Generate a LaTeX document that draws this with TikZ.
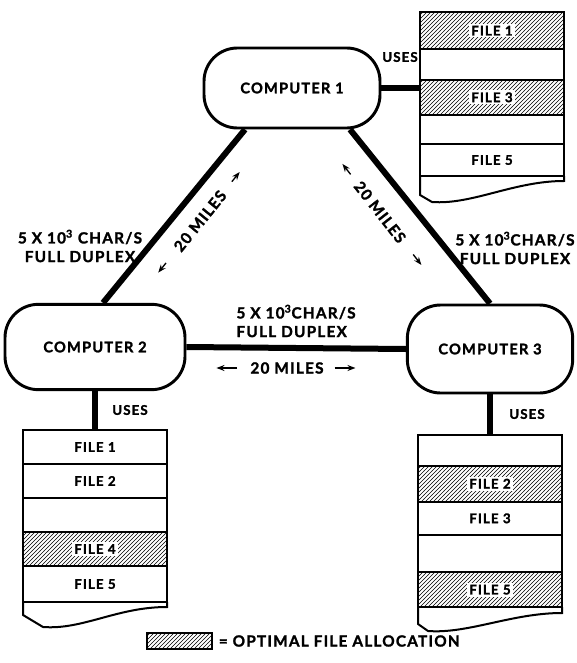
\documentclass[tikz,border=0pt]{standalone}
\usepackage{fontspec}
\setmainfont{Lato}[LetterSpace=8,BoldFeatures={FakeBold=1.6}]
\usetikzlibrary{positioning,calc,patterns,arrows.meta}

\tikzset{every picture/.style={line width=0.75pt}}

\begin{document}
\begin{tikzpicture}[x=0.75pt,y=0.75pt,yscale=-1,xscale=1,
	font=\bfseries\fontsize{10}{14}\selectfont,
	computer/.style={draw,line width=2.2pt,rounded corners=25pt,inner sep=0pt,font=\bfseries\fontsize{11}{14}\selectfont},
	link/.style={line width=4.5pt},
	filerow/.style={draw,line width=1.5pt,minimum width=108pt,inner sep=0pt,outer sep=0pt},
	optimal/.style={pattern=north east lines},
	tag/.style={fill=white,inner sep=1.5pt},
	dist/.style={line width=1pt,-{Stealth[length=6pt,width=4.5pt]}},
	miles/.style={font=\bfseries\fontsize{11.5}{14}\selectfont},
	rate/.style={align=center,inner sep=0pt,font=\bfseries\fontsize{11.5}{14}\selectfont}]
	\useasboundingbox (0,0) rectangle (576,663);

	% Computers
	\node[computer,minimum width=132pt,minimum height=60pt] (c1) at (292,88) {COMPUTER 1};
	\node[computer,minimum width=135pt,minimum height=64pt] (c2) at (95,347) {COMPUTER 2};
	\node[computer,minimum width=124pt,minimum height=66pt] (c3) at (490,349) {COMPUTER 3};

	% Files used by computer 1
	\node[filerow,optimal,minimum height=28pt,anchor=north west,label={[tag]center:FILE 1}] (s1r1) at (420,12) {};
	\node[filerow,minimum height=23pt,below=0pt of s1r1] (s1r2) {};
	\node[filerow,optimal,minimum height=26pt,below=0pt of s1r2,label={[tag]center:FILE 3}] (s1r3) {};
	\node[filerow,minimum height=22pt,below=0pt of s1r3] (s1r4) {};
	\node[filerow,minimum height=24pt,below=0pt of s1r4] (s1r5) {FILE 5};
	\draw[line width=1.5pt] (s1r5.south west) -- ++(0,19) -- ++(12,7) .. controls +(40,3) and +(-50,0) .. ($(s1r5.south east)+(0,5)$) -- (s1r5.south east);

	% Files used by computer 2
	\node[filerow,minimum height=25.5pt,anchor=north west] (s2r1) at (23,430) {FILE 1};
	\node[filerow,minimum height=25.5pt,below=0pt of s2r1] (s2r2) {FILE 2};
	\node[filerow,minimum height=25.5pt,below=0pt of s2r2] (s2r3) {};
	\node[filerow,optimal,minimum height=25.5pt,below=0pt of s2r3,label={[tag]center:FILE 4}] (s2r4) {};
	\node[filerow,minimum height=27pt,below=0pt of s2r4] (s2r5) {FILE 5};
	\draw[line width=1.5pt] (s2r5.south west) -- ++(0,13) -- ++(20,12) .. controls +(40,3) and +(-50,0) .. ($(s2r5.south east)+(0,5)$) -- (s2r5.south east);

	% Files used by computer 3
	\node[filerow,minimum height=23pt,anchor=north west] (s3r1) at (418,435) {};
	\node[filerow,optimal,minimum height=27pt,below=0pt of s3r1,label={[tag]center:FILE 2}] (s3r2) {};
	\node[filerow,minimum height=25pt,below=0pt of s3r2] (s3r3) {FILE 3};
	\node[filerow,minimum height=28pt,below=0pt of s3r3] (s3r4) {};
	\node[filerow,optimal,minimum height=26pt,below=0pt of s3r4,label={[tag]center:FILE 5}] (s3r5) {};
	\draw[line width=1.5pt] (s3r5.south west) -- ++(0,17) -- ++(10,7) .. controls +(40,3) and +(-50,0) .. ($(s3r5.south east)+(0,6)$) -- (s3r5.south east);

	% Lines
	\draw[link] ($(c1.south)+(-47,0)$) -- ($(c2.north)+(8,0)$);
	\draw[link] ($(c1.south)+(58,0)$) -- (c3.north);
	\draw[link] (c2.east) -- (c3.west);
	\draw[link] (c1.east) -- (c1.east -| s1r1.west);
	\draw[link] (c2.south) -- (s2r1.north);
	\draw[link] (c3.south) -- (s3r1.north);

	% Uses labels
	\node (u1) at (400,57) {USES};
	\node (u2) at (130,410) {USES};
	\node (u3) at (527,414) {USES};

	% Line rates
	\node[rate] (r12) at (80,246) {5 X 10\textsuperscript{3} CHAR/S\\FULL DUPLEX};
	\node[rate] (r13) at (515,248) {5 X 10\textsuperscript{3}CHAR/S\\FULL DUPLEX};
	\node[rate,align=left,anchor=west] (r23) at (236,321) {5 X 10\textsuperscript{3}CHAR/S\\FULL DUPLEX};

	% Distances
	\node[miles,rotate=51] (d12) at (200,221) {20 MILES};
	\draw[dist] ($(d12.center)!1.22!(d12.east)$) -- ($(d12.center)!1.52!(d12.east)$);
	\draw[dist] ($(d12.center)!1.3!(d12.west)$) -- ($(d12.center)!1.6!(d12.west)$);
	\node[miles,rotate=-52] (d13) at (380,212) {20 MILES};
	\draw[dist] ($(d13.center)!1.15!(d13.west)$) -- ($(d13.center)!1.47!(d13.west)$);
	\draw[dist] ($(d13.center)!1.3!(d13.east)$) -- ($(d13.center)!1.62!(d13.east)$);
	\node[miles] (d23) at (287,368) {20 MILES};
	\draw[dist] ($(d23.center)!1.2!(d23.west)$) -- ($(d23.center)!1.7!(d23.west)$);
	\draw[dist] ($(d23.center)!1.15!(d23.east)$) -- ($(d23.center)!1.65!(d23.east)$);

	% Legend
	\node[draw,line width=1.5pt,optimal,minimum width=48.75pt,minimum height=12pt] (key) at (179.5,641) {};
	\node[rate,right=4pt of key] (keytext) {= OPTIMAL FILE ALLOCATION};
\end{tikzpicture}
\end{document}
